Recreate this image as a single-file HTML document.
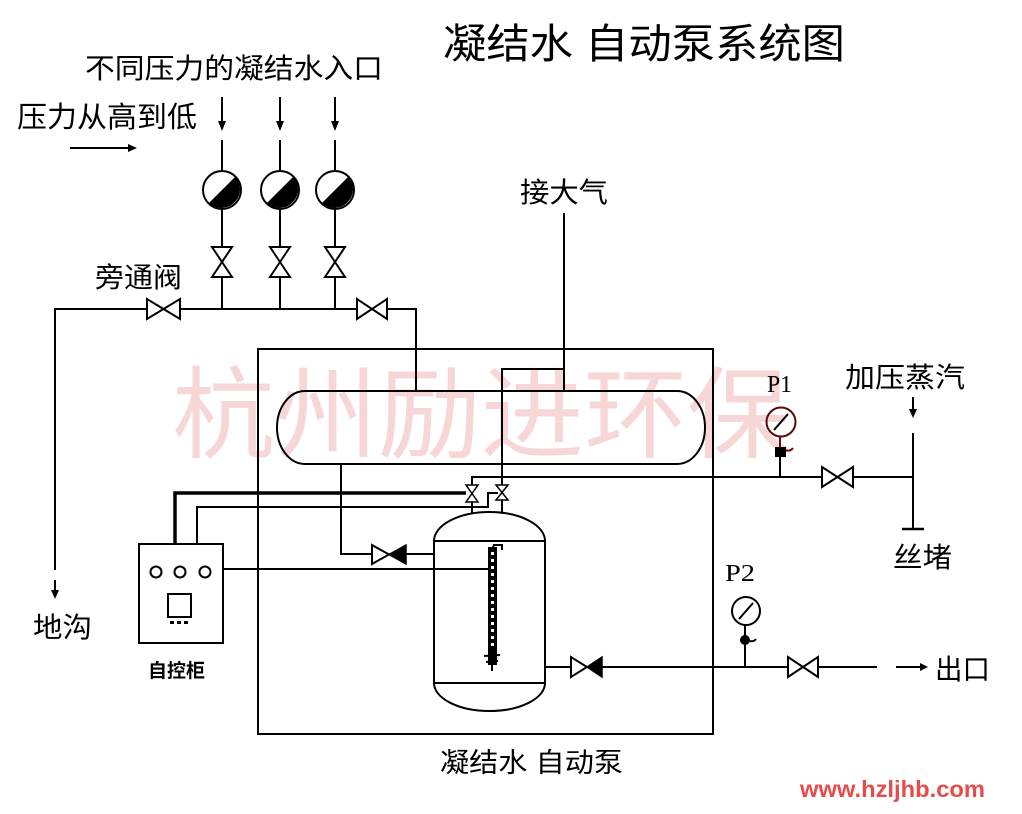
<!DOCTYPE html>
<html>
<head>
<meta charset="utf-8">
<style>
html,body{margin:0;padding:0;background:#fff;width:1022px;height:814px;overflow:hidden;}
svg{display:block;}
text{font-family:"Liberation Sans","Noto Sans CJK SC","WenQuanYi Zen Hei",sans-serif;fill:#000;}
.s{font-family:"Liberation Serif","Noto Serif CJK SC",serif;}
</style>
</head>
<body>
<svg width="1022" height="814" viewBox="0 0 1022 814" xmlns="http://www.w3.org/2000/svg">
<!-- watermark -->
<text x="172" y="450" font-size="100" fill="#f6d6d6" style="fill:#f6d6d6" textLength="618" lengthAdjust="spacingAndGlyphs">杭州励进环保</text>

<g stroke="#000" stroke-width="2" fill="none">
  <!-- inlet lines -->
  <line x1="222" y1="97" x2="222" y2="124"/>
  <line x1="280" y1="97" x2="280" y2="124"/>
  <line x1="335" y1="97" x2="335" y2="124"/>
  <line x1="222" y1="140" x2="222" y2="171"/>
  <line x1="280" y1="140" x2="280" y2="171"/>
  <line x1="335" y1="140" x2="335" y2="171"/>
  <line x1="222" y1="209" x2="222" y2="247"/>
  <line x1="280" y1="209" x2="280" y2="247"/>
  <line x1="335" y1="209" x2="335" y2="247"/>
  <line x1="222" y1="277" x2="222" y2="309"/>
  <line x1="280" y1="277" x2="280" y2="309"/>
  <line x1="335" y1="277" x2="335" y2="309"/>
  <!-- bypass -->
  <polyline points="55,570 55,309 416,309 416,391"/>
  <line x1="55" y1="580" x2="55" y2="592"/>
  <!-- small direction arrow -->
  <line x1="70" y1="148" x2="130" y2="148"/>
  <!-- main box -->
  <rect x="258" y="349" width="455" height="385"/>
  <!-- oval tank -->
  <path d="M305,391 H677 A28,36.5 0 0 1 677,464 H305 A28,36.5 0 0 1 305,391 Z"/>
  <!-- atmosphere -->
  <line x1="564" y1="213" x2="564" y2="391"/>
  <polyline points="564,369 502,369 502,485"/>
  <line x1="502" y1="500" x2="502" y2="514"/>
  <!-- steam line -->
  <polyline points="472,485 472,477 913,477"/>
  <line x1="472" y1="502" x2="472" y2="513"/>
  <line x1="913" y1="433" x2="913" y2="528"/>
  <line x1="913" y1="397" x2="913" y2="412"/>
  <line x1="902" y1="529" x2="924" y2="529" stroke-width="2.5"/>
  <!-- control wires -->
  <polyline points="175,544 175,493 466,493" stroke-width="3.5"/>
  <polyline points="197,544 197,507 488,507 488,493 498,493"/>
  <line x1="223" y1="569" x2="490" y2="569"/>
  <!-- control box -->
  <rect x="139" y="544" width="84" height="99"/>
  <circle cx="156" cy="572" r="5.5"/>
  <circle cx="180" cy="572" r="5.5"/>
  <circle cx="205" cy="572" r="5.5"/>
  <rect x="168" y="594" width="23" height="23"/>
  <!-- inlet to tank -->
  <polyline points="341,464 341,554 434,554"/>
  <!-- vessel -->
  <rect x="434" y="541" width="111" height="142"/>
  <path d="M434,541 A55.5,29 0 0 1 545,541"/>
  <path d="M434,683 A55.5,28 0 0 0 545,683"/>
  <!-- outlet -->
  <line x1="545" y1="667" x2="877" y2="667"/>
  <line x1="896" y1="667" x2="922" y2="667"/>
  <!-- P1 -->
  <circle cx="781" cy="422" r="14.5" stroke="#5a0a0a"/>
  <line x1="774" y1="430" x2="788" y2="414" stroke="#000"/>
  <line x1="780" y1="437" x2="780" y2="448" stroke="#7a0a0a"/>
  <path d="M785,450 q5,2 8,-2" stroke="#7a0a0a"/>
  <line x1="780" y1="456" x2="780" y2="477"/>
  <!-- P2 -->
  <circle cx="746" cy="611" r="14"/>
  <line x1="739" y1="619" x2="753" y2="603"/>
  <line x1="745" y1="625" x2="745" y2="667"/>
  <path d="M750,641 q4,1 6,-2"/>
</g>

<!-- inlet fittings -->
<g stroke="#000" stroke-width="2">
  <circle cx="222" cy="190" r="19" fill="#fff"/>
  <circle cx="280" cy="190" r="19" fill="#fff"/>
  <circle cx="335" cy="190" r="19" fill="#fff"/>
</g>
<g fill="#000">
  <path d="M208.6,203.4 A19,19 0 0 0 235.4,176.6 Z"/>
  <path d="M266.6,203.4 A19,19 0 0 0 293.4,176.6 Z"/>
  <path d="M321.6,203.4 A19,19 0 0 0 348.4,176.6 Z"/>
  <!-- arrowheads -->
  <polygon points="218,121 226,121 222,131"/>
  <polygon points="276,121 284,121 280,131"/>
  <polygon points="331,121 339,121 335,131"/>
  <polygon points="128,144 128,152 137,148"/>
  <polygon points="51,590 59,590 55,599"/>
  <polygon points="909,409 917,409 913,418"/>
  <polygon points="920,663 920,671 928,667"/>
  <!-- control dots -->
  <rect x="170" y="621" width="4" height="3"/>
  <rect x="177" y="621" width="4" height="3"/>
  <rect x="184" y="621" width="4" height="3"/>
  <!-- P1 block -->
  <rect x="775" y="447" width="11" height="10"/>
  <!-- P2 ball -->
  <circle cx="745" cy="640" r="5"/>
</g>

<!-- valves -->
<g stroke="#000" stroke-width="2" fill="#fff" stroke-linejoin="miter">
  <!-- vertical inlet valves -->
  <polygon points="212,247 232,247 222,262"/><polygon points="212,277 232,277 222,262"/>
  <polygon points="270,247 290,247 280,262"/><polygon points="270,277 290,277 280,262"/>
  <polygon points="325,247 345,247 335,262"/><polygon points="325,277 345,277 335,262"/>
  <!-- bypass valves -->
  <polygon points="147,299 147,319 163.5,309"/><polygon points="180,299 180,319 163.5,309"/>
  <polygon points="357,299 357,319 372,309"/><polygon points="387,299 387,319 372,309"/>
  <!-- steam valve -->
  <polygon points="822,467 822,487 837.5,477"/><polygon points="853,467 853,487 837.5,477"/>
  <!-- outlet gate valve -->
  <polygon points="788,657 788,677 803,667"/><polygon points="818,657 818,677 803,667"/>
  <!-- small top valves -->
  <polygon points="466,485 478,485 472,493.5" stroke-width="1.5"/><polygon points="466,502 478,502 472,493.5" stroke-width="1.5"/>
  <polygon points="496,485 508,485 502,492.5" stroke-width="1.5"/><polygon points="496,500 508,500 502,492.5" stroke-width="1.5"/>
  <!-- check valves (outlined part) -->
  <polygon points="372,545 372,564 389,554.5"/>
  <polygon points="571,657 571,677 587,667"/>
</g>
<g fill="#000" stroke="#000" stroke-width="1.5">
  <polygon points="406,545 406,564 389,554.5"/>
  <polygon points="602,657 602,677 587,667"/>
</g>

<!-- level gauge -->
<rect x="488" y="547" width="9" height="118" fill="#000"/>
<g fill="#fff">
  <rect x="491" y="552" width="3" height="3"/><rect x="491" y="559" width="3" height="3"/><rect x="491" y="566" width="3" height="3"/>
  <rect x="491" y="573" width="3" height="3"/><rect x="491" y="580" width="3" height="3"/><rect x="491" y="587" width="3" height="3"/>
  <rect x="491" y="594" width="3" height="3"/><rect x="491" y="601" width="3" height="3"/><rect x="491" y="608" width="3" height="3"/>
  <rect x="491" y="615" width="3" height="3"/><rect x="491" y="622" width="3" height="3"/><rect x="491" y="629" width="3" height="3"/>
  <rect x="491" y="636" width="3" height="3"/><rect x="491" y="643" width="3" height="3"/>
</g>
<g stroke="#000" stroke-width="2" fill="none">
  <path d="M492,550 L494,545 H502 V550"/>
  <line x1="484" y1="656" x2="500" y2="655"/>
  <line x1="486" y1="662" x2="498" y2="661"/>
  <line x1="492" y1="665" x2="492" y2="671"/>
</g>

<!-- labels -->
<text x="443" y="58" font-size="41" textLength="402" lengthAdjust="spacingAndGlyphs">凝结水 自动泵系统图</text>
<text x="85" y="78" font-size="28" textLength="298" lengthAdjust="spacingAndGlyphs">不同压力的凝结水入口</text>
<text x="17" y="127" font-size="29" textLength="180" lengthAdjust="spacingAndGlyphs">压力从高到低</text>
<text x="520" y="202" font-size="28" textLength="88" lengthAdjust="spacingAndGlyphs">接大气</text>
<text x="95" y="287" font-size="28" textLength="87" lengthAdjust="spacingAndGlyphs">旁通阀</text>
<text x="33" y="637" font-size="28" textLength="59" lengthAdjust="spacingAndGlyphs">地沟</text>
<text x="148" y="677" font-size="19" font-weight="bold" textLength="57" lengthAdjust="spacingAndGlyphs">自控柜</text>
<text x="440" y="772" font-size="27" textLength="183" lengthAdjust="spacingAndGlyphs">凝结水 自动泵</text>
<text x="845" y="387" font-size="28" textLength="120" lengthAdjust="spacingAndGlyphs">加压蒸汽</text>
<text x="893" y="567" font-size="28" textLength="59" lengthAdjust="spacingAndGlyphs">丝堵</text>
<text x="935" y="679" font-size="28" textLength="55" lengthAdjust="spacingAndGlyphs">出口</text>
<text class="s" x="767" y="392" font-size="24" textLength="25" lengthAdjust="spacingAndGlyphs">P1</text>
<text class="s" x="725" y="581" font-size="24" textLength="30" lengthAdjust="spacingAndGlyphs">P2</text>
<text x="800" y="797" font-size="23" font-weight="bold" style="fill:#e64c4c" textLength="185" lengthAdjust="spacingAndGlyphs">www.hzljhb.com</text>
</svg>
</body>
</html>
